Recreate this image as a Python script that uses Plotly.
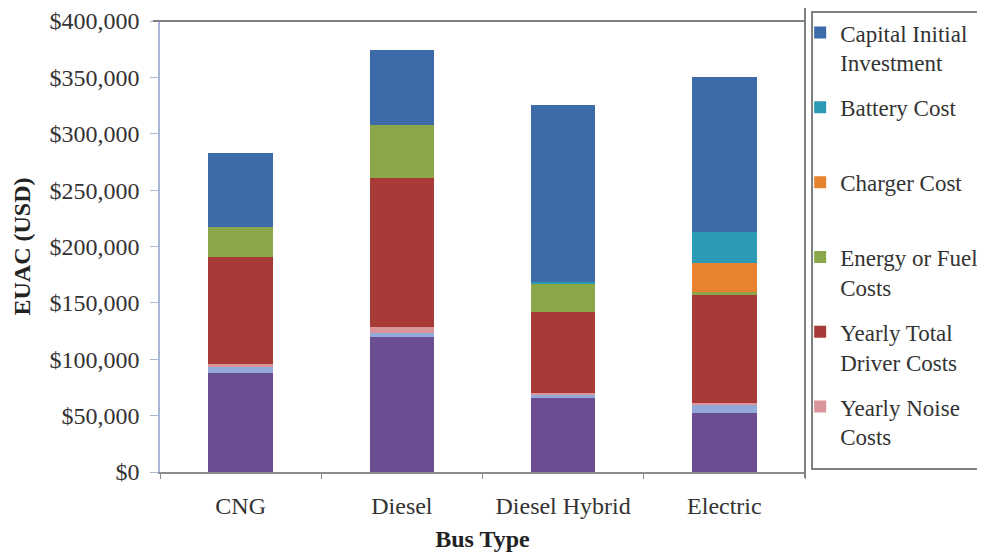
import plotly.graph_objects as go

categories = ["CNG", "Diesel", "Diesel Hybrid", "Electric"]

maintenance = [88000, 120000, 66000, 52000]
emissions = [5000, 3500, 2000, 7000]
noise = [2500, 5000, 2000, 2000]
driver = [95000, 132000, 72000, 96000]
energy = [27000, 47000, 25000, 3000]
charger = [0, 0, 0, 25000]
battery = [0, 0, 1500, 27500]
capital = [65500, 67000, 157000, 138000]

series = [
    ("Yearly Maintenance Costs", maintenance, "#6A4E91", False, 8),
    ("Yearly Emission Costs", emissions, "#93A9D8", False, 7),
    ("Yearly Noise<br>Costs", noise, "#D9959A", True, 6),
    ("Yearly Total<br>Driver Costs", driver, "#A83A38", True, 5),
    ("Energy or Fuel<br>Costs", energy, "#8AA84A", True, 4),
    ("Charger Cost<br> ", charger, "#E8822E", True, 3),
    ("Battery Cost<br> ", battery, "#2B9AB4", True, 2),
    ("Capital Initial<br>Investment", capital, "#3D6BA9", True, 1),
]

FONT = "Liberation Serif, Times New Roman, serif"
FS = 24
LFS = 23

fig = go.Figure()
for i, (name, vals, color, show, rank) in enumerate(series):
    fig.add_trace(go.Bar(
        x=categories, y=vals, name=name,
        marker=dict(color=color, line=dict(width=0)),
        showlegend=show, legendgroup=f"g{rank}", legendrank=rank,
        width=0.4,
    ))

fig.update_layout(
    barmode="stack",
    width=985, height=554,
    margin=dict(l=152, r=188, t=13, b=90, autoexpand=False),
    paper_bgcolor="white", plot_bgcolor="white",
    font=dict(family=FONT, size=FS, color="#333333"),
    legend=dict(
        x=0.9925, y=1.022, xanchor="left", yanchor="top",
        traceorder="grouped", tracegroupgap=12,
        valign="top", maxheight=700,
        font=dict(family=FONT, size=LFS, color="#333333"),
        bgcolor="rgba(0,0,0,0)",
    ),
    xaxis=dict(
        showline=True, linecolor="#8c8c8c", linewidth=1.5,
        ticks="outside", tickson="boundaries", ticklen=5, tickcolor="#8c8c8c",
        ticklabelstandoff=11,
        tickfont=dict(family=FONT, size=FS, color="#333333"),
        title=dict(text="<b>Bus Type</b>", font=dict(family=FONT, size=FS, color="#222222"), standoff=13),
        automargin=False,
    ),
    yaxis=dict(
        range=[0, 400000], dtick=50000,
        tickprefix="$", tickformat=",",
        showgrid=False, zeroline=False,
        showline=True, linecolor="#A9B8DA", linewidth=1.5,
        ticks="outside", ticklen=8, tickcolor="#A9B8DA",
        ticklabelstandoff=6,
        tickfont=dict(family=FONT, size=FS, color="#333333"),
        title=dict(text="<b>EUAC (USD)</b>", font=dict(family=FONT, size=FS, color="#222222"), standoff=12),
        automargin=False,
    ),
    shapes=[
        dict(type="line", xref="paper", yref="paper", x0=-0.011, x1=1.0, y0=1.0, y1=1.0,
             line=dict(color="#7f7f7f", width=2)),
        dict(type="line", xref="paper", yref="paper", x0=1.0, x1=1.0, y0=-0.013, y1=1.05,
             line=dict(color="#7f7f7f", width=2)),
        dict(type="rect", xref="paper", yref="paper", x0=1.0109, x1=1.3, y0=0.0067, y1=1.02,
             line=dict(color="#7f7f7f", width=2), fillcolor="rgba(0,0,0,0)"),
    ],
)

fig.write_html("out.html")
